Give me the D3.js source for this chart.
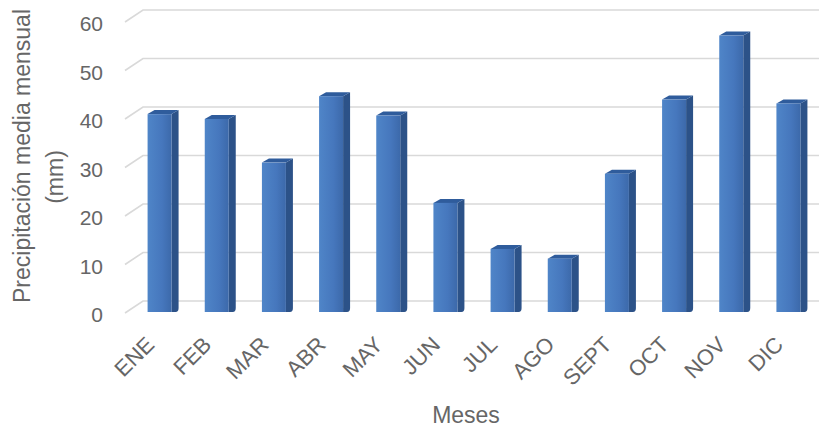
<!DOCTYPE html>
<html>
<head>
<meta charset="utf-8">
<script src="https://cdn.jsdelivr.net/npm/d3@7"></script>
<style>
  html, body { margin: 0; padding: 0; background: #ffffff; }
  svg { display: block; }
  text { font-family: "Liberation Sans", Arial, sans-serif; fill: #666666; }
</style>
</head>
<body>
<svg id="chart" width="819" height="430"></svg>
<script>
// Monthly mean precipitation (mm)
const months = ["ENE", "FEB", "MAR", "ABR", "MAY", "JUN", "JUL", "AGO", "SEPT", "OCT", "NOV", "DIC"];
const precip = [40.8, 39.8, 30.8, 44.5, 40.5, 22.5, 13, 11, 28.5, 43.8, 57, 43];
const yTicks = [0, 10, 20, 30, 40, 50, 60];
const yTitleMain = "Precipitación media mensual";
const yTitleUnit = "(mm)";
const xTitle = "Meses";

const W = 819, H = 430;
const svg = d3.select("#chart");

// 3D geometry: back wall, floor depth and column depth
const wallLeft = 143, sideLeft = 125, sideDrop = 12;
const frontDrop = 11;           // front face of a column sits lower than the back wall
const depthX = 7, depthY = 4;   // visible column side / top

const yBack = d3.scaleLinear().domain([0, 60]).range([301, 10]);
const yFront = v => yBack(v) + frontDrop;
const yLabel = d3.scaleLinear().domain([0, 60]).range([yBack(0) + 14, yBack(60) + 14]);

const x = d3.scaleBand().domain(months).range([131, 817]).paddingInner(0).paddingOuter(0);
const barW = 24;

// gradient for the column fronts
const defs = svg.append("defs");
const gFront = defs.append("linearGradient").attr("id", "front").attr("x1", 0).attr("x2", 1).attr("y1", 0).attr("y2", 0);
gFront.append("stop").attr("offset", "0%").attr("stop-color", "#4f85c8");
gFront.append("stop").attr("offset", "60%").attr("stop-color", "#4677bd");
gFront.append("stop").attr("offset", "100%").attr("stop-color", "#3c69aa");

// gridlines: diagonal on the side wall, then across the back wall
svg.append("g").selectAll("path").data(yTicks).join("path")
  .attr("d", t => `M${sideLeft},${yBack(t) + sideDrop}L${wallLeft},${yBack(t)}L${W},${yBack(t)}`)
  .attr("fill", "none")
  .attr("stroke", "#d9d9d9")
  .attr("stroke-width", 1.6);

// y axis labels
const yAxis = d3.axisLeft(yLabel).tickValues(yTicks).tickSize(0).tickPadding(0).tickFormat(d3.format("d"));
const gy = svg.append("g").attr("transform", "translate(103,0)").call(yAxis);
gy.select(".domain").remove();
gy.selectAll("text").attr("font-size", 21).attr("fill", "#666666").attr("font-family", null);

// columns
const bars = svg.append("g").selectAll("g").data(months.map((m, i) => ({ m, v: precip[i] }))).join("g");
const bx = d => x(d.m) + (x.bandwidth() - barW) / 2;

// side face
bars.append("path")
  .attr("d", d => {
    const x0 = bx(d) + barW, yt = yFront(d.v), yb = yFront(0);
    return `M${x0},${yt}L${x0 + depthX},${yt - depthY}L${x0 + depthX},${yb - depthY}Q${x0 + depthX},${yb} ${x0 + depthX - 3},${yb}L${x0},${yb}Z`;
  })
  .attr("fill", "#2c5288");

// top face
bars.append("path")
  .attr("d", d => {
    const x0 = bx(d), yt = yFront(d.v);
    return `M${x0},${yt}L${x0 + depthX},${yt - depthY}L${x0 + barW + depthX},${yt - depthY}L${x0 + barW},${yt}Z`;
  })
  .attr("fill", "#2f5c9c");

// front face
bars.append("rect")
  .attr("x", bx)
  .attr("y", d => yFront(d.v))
  .attr("width", barW)
  .attr("height", d => yFront(0) - yFront(d.v))
  .attr("fill", "url(#front)");

// x axis labels (rotated)
const xAxis = d3.axisBottom(x).tickSize(0).tickPadding(0);
const gx = svg.append("g").attr("transform", "translate(0,346)").call(xAxis);
gx.select(".domain").remove();
gx.selectAll("text")
  .attr("font-size", 22)
  .attr("fill", "#666666")
  .attr("font-family", null)
  .attr("text-anchor", "end")
  .attr("dy", 0)
  .attr("transform", "translate(-4,0) rotate(-45)");

// axis titles
svg.append("text")
  .attr("x", 466).attr("y", 423)
  .attr("text-anchor", "middle")
  .attr("font-size", 23)
  .text(xTitle);

svg.append("text")
  .attr("transform", "translate(30,156) rotate(-90)")
  .attr("text-anchor", "middle")
  .attr("font-size", 23)
  .text(yTitleMain);

svg.append("text")
  .attr("transform", "translate(63,177) rotate(-90)")
  .attr("text-anchor", "middle")
  .attr("font-size", 23)
  .text(yTitleUnit);
</script>
</body>
</html>
